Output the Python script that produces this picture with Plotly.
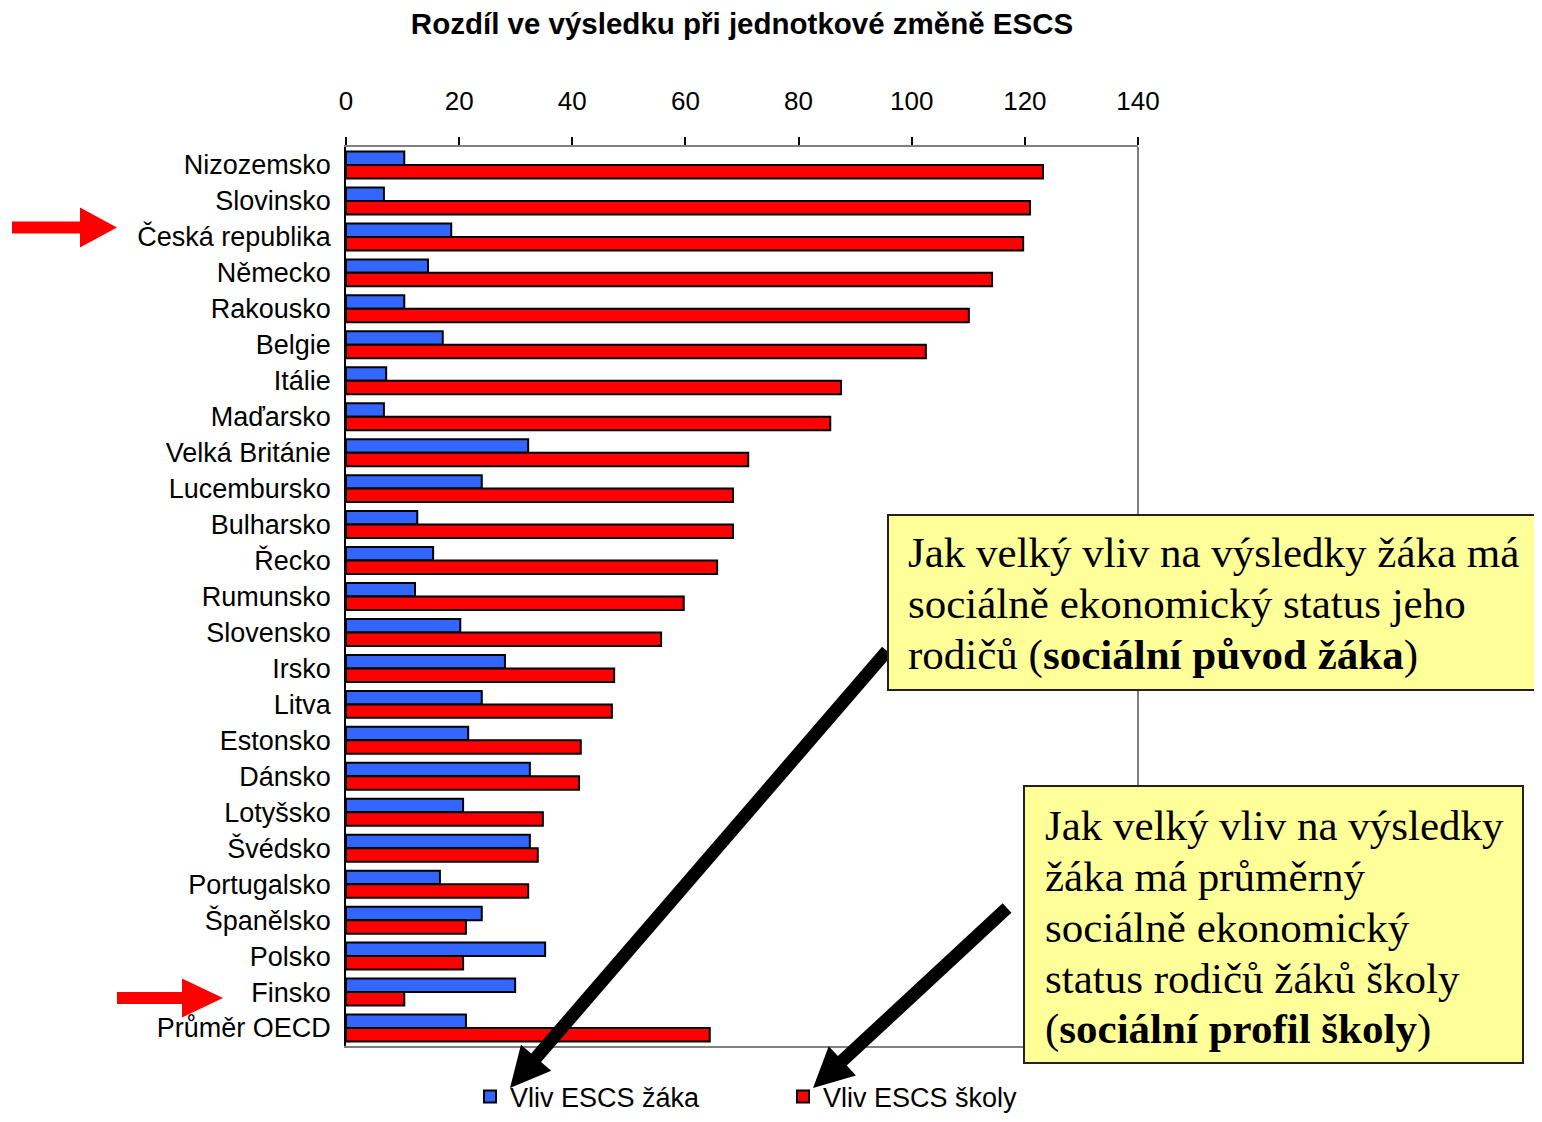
import math
import plotly.graph_objects as go

# ---------------- data ----------------
countries = ["Nizozemsko", "Slovinsko", "Česká republika", "Německo", "Rakousko",
             "Belgie", "Itálie", "Maďarsko", "Velká Británie", "Lucembursko",
             "Bulharsko", "Řecko", "Rumunsko", "Slovensko", "Irsko", "Litva",
             "Estonsko", "Dánsko", "Lotyšsko", "Švédsko", "Portugalsko",
             "Španělsko", "Polsko", "Finsko", "Průměr OECD"]
vliv_zaka = [10.3, 6.7, 18.6, 14.5, 10.3, 17.1, 7.1, 6.7, 32.2, 24.0,
             12.6, 15.4, 12.2, 20.2, 28.1, 24.0, 21.6, 32.5, 20.7, 32.5,
             16.6, 24.0, 35.2, 29.9, 21.2]
vliv_skoly = [123.2, 120.9, 119.7, 114.2, 110.1, 102.5, 87.5, 85.6, 71.1, 68.4,
              68.4, 65.6, 59.7, 55.7, 47.4, 47.0, 41.5, 41.2, 34.8, 33.9,
              32.2, 21.2, 20.7, 10.3, 64.3]
series_names = ["Vliv ESCS žáka", "Vliv ESCS školy"]
x_ticks = [0, 20, 40, 60, 80, 100, 120, 140]
title_text = "Rozdíl ve výsledku při jednotkové změně ESCS"
box1_lines = ["Jak velký vliv na výsledky žáka má",
              "sociálně ekonomický status jeho",
              "rodičů (<b>sociální původ žáka</b>)"]
box2_lines = ["Jak velký vliv na výsledky",
              "žáka má průměrný",
              "sociálně ekonomický",
              "status rodičů žáků školy",
              "(<b>sociální profil školy</b>)"]

# ---------------- layout geometry (screen pixels) ----------------
OFF = 8                      # default page body margin
FW, FH = 1542 - 2 * OFF, 1122 - 2 * OFF
L, R, T, B = 346, 1138, 147, 1046   # plot area in screen pixels
PW, PH = R - L, B - T


def px(x):
    return (x - L) / PW


def py(y):
    return (B - y) / PH


def arrow_path(x0, y0, x1, y1, sw, hl, hw):
    dx, dy = x1 - x0, y1 - y0
    n = math.hypot(dx, dy)
    ux, uy = dx / n, dy / n
    nx, ny = -uy, ux
    bx, by = x1 - hl * ux, y1 - hl * uy
    pts = [
        (x0 + nx * sw / 2, y0 + ny * sw / 2),
        (bx + nx * sw / 2, by + ny * sw / 2),
        (bx + nx * hw / 2, by + ny * hw / 2),
        (x1, y1),
        (bx - nx * hw / 2, by - ny * hw / 2),
        (bx - nx * sw / 2, by - ny * sw / 2),
        (x0 - nx * sw / 2, y0 - ny * sw / 2),
    ]
    return "M " + " L ".join(f"{px(a):.5f},{py(b):.5f}" for a, b in pts) + " Z"


fig = go.Figure()
fig.add_trace(go.Bar(y=countries, x=vliv_zaka, name=series_names[0], orientation="h",
                     marker=dict(color="#3366FF", line=dict(color="black", width=2))))
fig.add_trace(go.Bar(y=countries, x=vliv_skoly, name=series_names[1], orientation="h",
                     marker=dict(color="#FF0000", line=dict(color="black", width=2))))

shapes = []
# right border of plot frame
shapes.append(dict(type="line", xref="paper", yref="paper", x0=1, x1=1, y0=0, y1=1,
                   line=dict(color="#808080", width=2), layer="below"))
# red arrows
for (x0, y0, x1, y1, hl, hw) in [(12, 227.5, 117, 227.5, 37, 40),
                                 (117, 998, 223, 998, 41, 39)]:
    shapes.append(dict(type="path", xref="paper", yref="paper",
                       path=arrow_path(x0, y0, x1, y1, 12, hl, hw),
                       fillcolor="#FF0000", line=dict(width=0)))
# black arrows
for (x0, y0, x1, y1) in [(887, 651, 510, 1088), (1007, 908, 813, 1088)]:
    shapes.append(dict(type="path", xref="paper", yref="paper",
                       path=arrow_path(x0, y0, x1, y1, 13, 40, 40),
                       fillcolor="black", line=dict(width=0)))
# yellow boxes
shapes.append(dict(type="rect", xref="paper", yref="paper",
                   x0=px(888), x1=px(1541), y0=py(690), y1=py(515),
                   fillcolor="#FFFF99", line=dict(color="#222222", width=2)))
shapes.append(dict(type="rect", xref="paper", yref="paper",
                   x0=px(1024), x1=px(1523), y0=py(1063), y1=py(786),
                   fillcolor="#FFFF99", line=dict(color="#222222", width=2)))

annotations = []
serif = dict(family="Liberation Serif, Times New Roman, serif", size=43, color="black")
for i, t in enumerate(box1_lines):
    annotations.append(dict(text=t, xref="paper", yref="paper", x=px(906), y=py(552 + 51.5 * i),
                            xanchor="left", yanchor="middle", showarrow=False, font=serif))
for i, t in enumerate(box2_lines):
    annotations.append(dict(text=t, xref="paper", yref="paper", x=px(1043), y=py(825 + 51 * i),
                            xanchor="left", yanchor="middle", showarrow=False, font=serif))

fig.update_layout(
    width=FW, height=FH, autosize=False,
    margin=dict(l=L - OFF, r=FW - (R - OFF), t=T - OFF, b=FH - (B - OFF), pad=0,
                autoexpand=False),
    paper_bgcolor="white", plot_bgcolor="white",
    barmode="group", bargap=0.25, bargroupgap=0,
    title=dict(text=f"<b>{title_text}</b>", x=0.5, xref="paper", xanchor="center",
               y=1 - (24 - OFF) / FH, yref="container", yanchor="middle",
               font=dict(family="Liberation Sans, Arial, sans-serif", size=29.5, color="black")),
    font=dict(family="Liberation Sans, Arial, sans-serif", color="black"),
    xaxis=dict(side="top", range=[0, 140], tickvals=x_ticks, ticktext=[str(v) for v in x_ticks],
               ticks="outside", ticklen=8, tickcolor="black", tickwidth=1.5,
               showline=True, linecolor="#808080", linewidth=2, mirror=True,
               showgrid=False, zeroline=False, tickfont=dict(size=26),
               ticklabelstandoff=17),
    yaxis=dict(type="category", categoryorder="array", categoryarray=countries,
               range=[len(countries) - 0.5, -0.5],
               showline=True, linecolor="black", linewidth=1.5, mirror=False,
               showgrid=False, zeroline=False, ticks="", tickfont=dict(size=27),
               ticklabelstandoff=8),
    legend=dict(orientation="h", x=px(470), xanchor="left", y=py(1097), yanchor="middle",
                font=dict(size=27), entrywidth=268, entrywidthmode="pixels",
                bgcolor="rgba(0,0,0,0)", traceorder="normal"),
    shapes=shapes,
    annotations=annotations,
)

fig.write_html("out.html")
